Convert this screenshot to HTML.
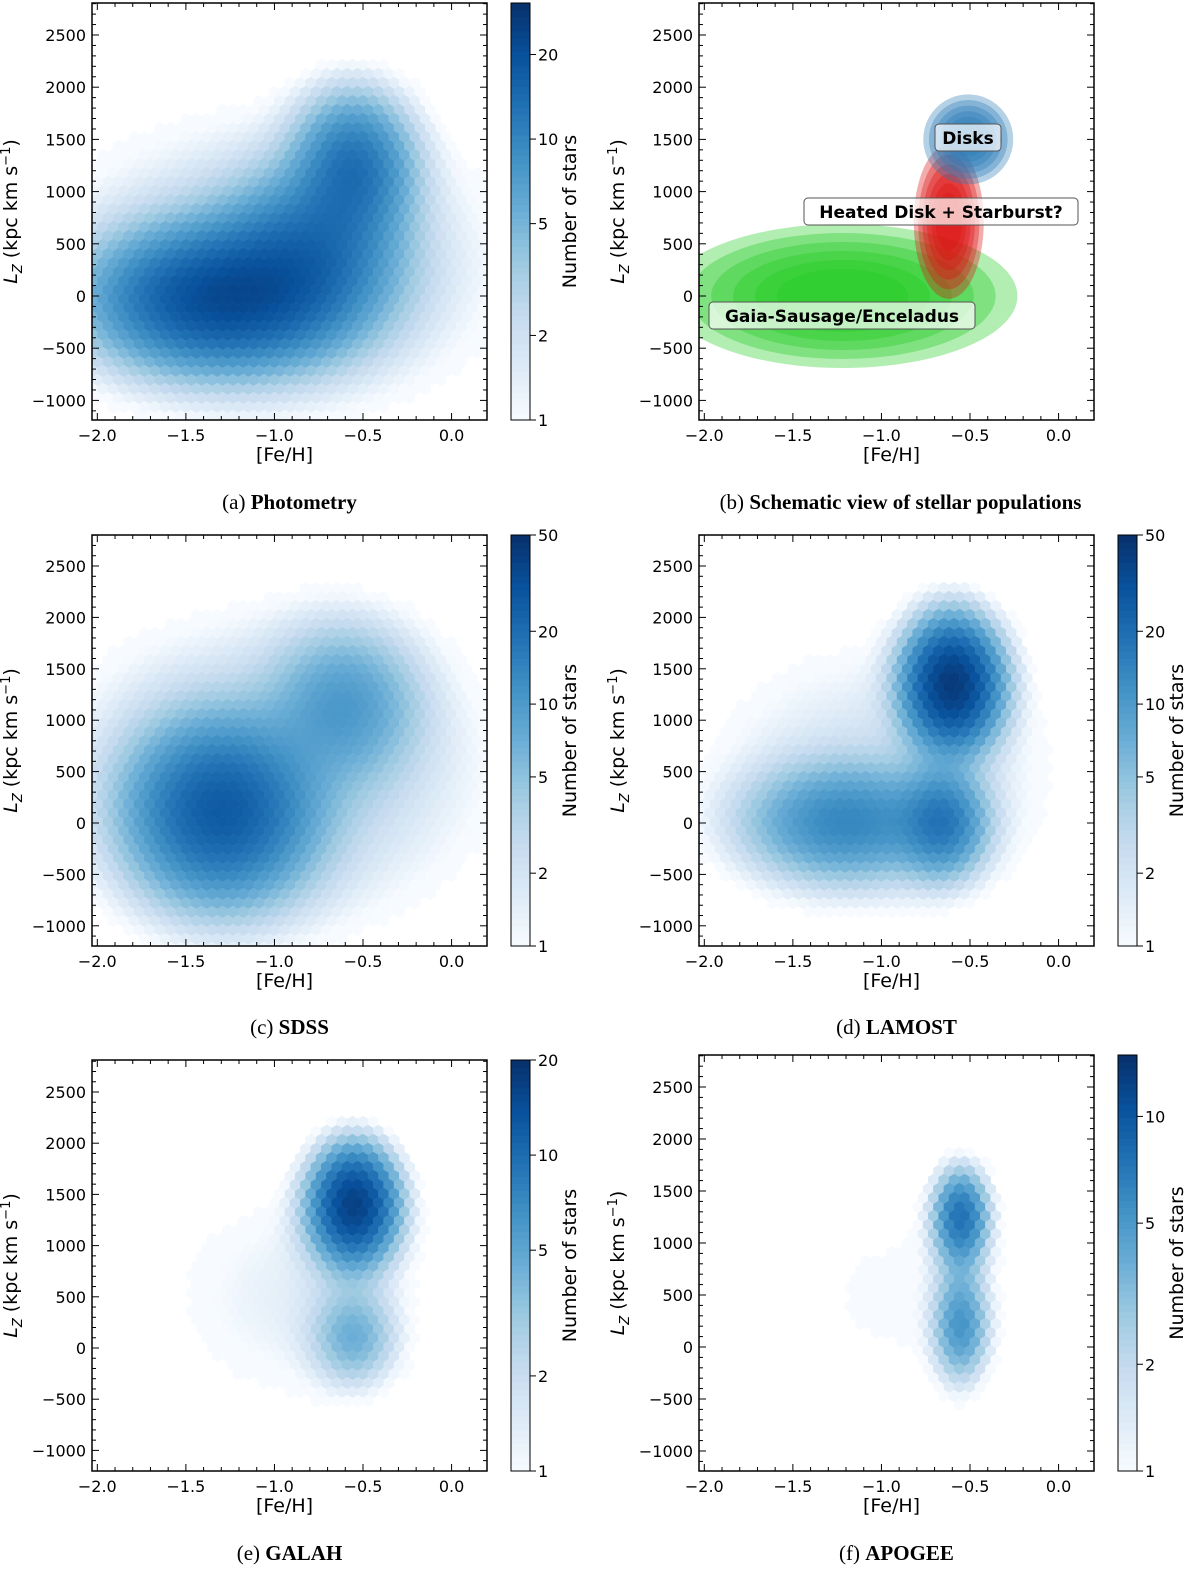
<!DOCTYPE html>
<html><head><meta charset="utf-8"><style>
body{margin:0;background:#fff}
svg{display:block}
text{font-family:"DejaVu Sans","Liberation Sans",sans-serif;fill:#000}
.cap{font-family:"Liberation Serif",serif;font-size:21px}
</style></head><body>
<svg id="fig" width="1200" height="1584" viewBox="0 0 1200 1584" xmlns="http://www.w3.org/2000/svg">
<defs></defs>
</svg>
<script>
// Data: blob components [feh, lz, sigmaFeh, sigmaLz, peakCount] per panel
const blobsA=[[-1.3,-30,0.42,400,19],[-0.55,1250,0.2,420,11],[-0.8,450,0.3,450,9],[-1.0,300,0.9,1000,2.5]];
const blobsC=[[-1.3,100,0.3,500,24],[-0.6,1150,0.25,450,8],[-1.0,500,0.8,1000,3]];
const blobsD=[[-0.6,1350,0.15,350,42],[-1.2,0,0.33,330,12],[-0.65,0,0.14,300,14],[-1.0,500,0.7,900,2]];
const blobsE=[[-0.55,1400,0.15,350,16],[-0.55,100,0.15,300,3.5],[-0.9,500,0.6,900,1.3]];
const blobsF=[[-0.55,1250,0.1,300,7],[-0.55,200,0.1,350,4.5],[-0.9,500,0.6,900,0.9]];
const xTicks=[-2.0,-1.5,-1.0,-0.5,0.0];
const yTicks=[2500,2000,1500,1000,500,0,-500,-1000];
const cbarA=[1,2,5,10,20], cbarC=[1,2,5,10,20,50], cbarE=[1,2,5,10,20], cbarF=[1,2,5,10];

const NS="http://www.w3.org/2000/svg";
const svg=document.getElementById('fig');
function el(tag,attrs,parent){const e=document.createElementNS(NS,tag);for(const k in attrs)e.setAttribute(k,attrs[k]);(parent||svg).appendChild(e);return e;}
const blues=["#f7fbff","#deebf7","#c6dbef","#9ecae1","#6baed6","#4292c6","#2171b5","#08519c","#08306b"];
function hex2rgb(h){return [1,3,5].map(i=>parseInt(h.substr(i,2),16));}
function cmap(t){t=Math.max(0,Math.min(1,t));const p=t*8,i=Math.min(7,Math.floor(p)),f=p-i;const a=hex2rgb(blues[i]),b=hex2rgb(blues[i+1]);return 'rgb('+a.map((v,k)=>Math.round(v+(b[k]-v)*f)).join(',')+')';}

function panel(o){
  const g=el('g',{});
  
  
  const X=v=>o.x0+(v-(-2.03))/(0.2-(-2.03))*(o.x1-o.x0);
  const Y=v=>o.y0v+(o.zeroY-o.y0v)*(2500-v)/2500;
  const clipId='clip'+o.id;
  const cp=el('clipPath',{id:clipId},svg.querySelector('defs'));
  el('rect',{x:o.x0,y:o.y0,width:o.x1-o.x0,height:o.y1-o.y0},cp);
  const hg=el('g',{'clip-path':'url(#'+clipId+')'},g);
  if(o.blobs){
    const dx=10.4,dy=9.0,R=dy/1.5;
    const lmax=Math.log10(o.vmax);
    let row=0;
    for(let py=o.y0-10;py<o.y1+10;py+=dy,row++){
      for(let px=o.x0-10+(row%2?dx/2:0);px<o.x1+10;px+=dx){
        const fe=-2.03+(px-o.x0)/(o.x1-o.x0)*2.23;
        const lz=2500-(py-o.y0v)/(o.zeroY-o.y0v)*2500;
        let c=0;
        for(const b of o.blobs){c+=b[4]*Math.exp(-0.5*((fe-b[0])/b[2])**2-0.5*((lz-b[1])/b[3])**2);}
        if(c<0.8)continue;
        const col=cmap(Math.log10(Math.max(1,c))/lmax);
        const h=el('polygon',{points:[[0,-R],[dx/2,-R/2],[dx/2,R/2],[0,R],[-dx/2,R/2],[-dx/2,-R/2]].map(p=>(px+p[0]).toFixed(1)+','+(py+p[1]).toFixed(1)).join(' '),fill:col,stroke:col,'stroke-width':0.4},hg);
        
        
      }
    }
  }
  if(o.schematic){
    const lay=(x,y,rx,ry,color,n,name)=>{for(let i=0;i<n;i++){const s=1-i/n*0.75;const e=el('ellipse',{cx:X(x),cy:Y(y),rx:rx*s,ry:ry*s,fill:color,'fill-opacity':0.35},hg);}};
    lay(-1.22,0,175,72,'#22cc22',6,'gse-ellipse');
    lay(-0.62,710,35,77,'#dd1111',6,'heated-disk-ellipse');
    lay(-0.51,1500,45,45,'#2a7ab8',6,'disks-ellipse');
  }
  el('rect',{x:o.x0,y:o.y0,width:o.x1-o.x0,height:o.y1-o.y0,fill:'none',stroke:'#000','stroke-width':1.5},g);
  for(let v=-2.0;v<=0.21;v+=0.1){const x=X(v);const major=Math.abs(v*2-Math.round(v*2))<1e-6;const L=major?7:4;
    el('line',{x1:x,y1:o.y1,x2:x,y2:o.y1-L,stroke:'#000'},g);el('line',{x1:x,y1:o.y0,x2:x,y2:o.y0+L,stroke:'#000'},g);}
  for(let v=-1100;v<=2800;v+=100){const y=Y(v);if(y<o.y0||y>o.y1)continue;const L=v%500===0?7:4;
    el('line',{x1:o.x0,y1:y,x2:o.x0+L,y2:y,stroke:'#000'},g);el('line',{x1:o.x1,y1:y,x2:o.x1-L,y2:y,stroke:'#000'},g);}
  xTicks.forEach(v=>{const t=el('text',{x:X(v),y:o.y1+21,'text-anchor':'middle','font-size':16},g);t.textContent=(v<0?'\u2212':'')+Math.abs(v).toFixed(1);});
  yTicks.forEach(v=>{const t=el('text',{x:o.x0-6,y:Y(v)+6,'text-anchor':'end','font-size':16},g);t.textContent=(v<0?'\u2212':'')+Math.abs(v);});
  const xl=el('text',{x:(o.x0+o.x1)/2-5,y:o.y1+41,'text-anchor':'middle','font-size':19},g);xl.textContent='[Fe/H]';
  
  const yc=o.x0-75,ym=(o.y0+o.y1)/2;
  const yl=el('text',{x:yc,y:ym,'text-anchor':'middle','font-size':19,transform:'rotate(-90 '+yc+' '+ym+')'},g);
  yl.innerHTML='<tspan font-style="italic">L</tspan><tspan font-style="italic" font-size="13" dy="5">Z</tspan><tspan dy="-5"> (kpc km s</tspan><tspan font-size="13" dy="-7">\u22121</tspan><tspan dy="7">)</tspan>';
  
  const cap=el('text',{x:(o.x0+o.x1)/2+(o.capShift||0),y:o.capY,'text-anchor':'middle',class:'cap'},g);
  cap.innerHTML='('+o.id+') <tspan font-weight="bold">'+o.cap+'</tspan>';
  
  if(o.cbx){
    const cb=el('g',{},g);
    const h=o.y1-o.y0,n=60;
    for(let i=0;i<n;i++){el('rect',{x:o.cbx,y:o.y1-(i+1)*h/n,width:19,height:h/n+0.6,fill:cmap((i+0.5)/n)},cb);}
    el('rect',{x:o.cbx,y:o.y0,width:19,height:h,fill:'none',stroke:'#000','stroke-width':1},cb);
    const lmax=Math.log10(o.vmax);
    o.cticks.forEach(v=>{const y=o.y1-Math.log10(v)/lmax*h;el('line',{x1:o.cbx+19,y1:y,x2:o.cbx+25,y2:y,stroke:'#000'},cb);
      const t=el('text',{x:o.cbx+27,y:y+6,'font-size':16},cb);t.textContent=v;});
    const lx=o.cbx+65;
    const ct=el('text',{x:lx,y:ym,'text-anchor':'middle','font-size':19,transform:'rotate(-90 '+lx+' '+ym+')'},cb);ct.textContent='Number of stars';
    
  }
  if(o.schematic){
    const lab=(txt,x,y,w,name)=>{const r=el('rect',{x:x-w/2,y:y-14,width:w,height:27,rx:4,fill:'#fff','fill-opacity':0.7,stroke:'#555'},g);
      const t=el('text',{x:x,y:y+6,'text-anchor':'middle','font-size':17,'font-weight':'bold'},g);t.textContent=txt;};
    lab('Disks',968,138,66,'disks-label');
    lab('Heated Disk + Starburst?',941,212,274,'heated-disk-label');
    lab('Gaia-Sausage/Enceladus',842,316,266,'gse-label');
  }
}
panel({id:'a',name:'panel-photometry',x0:92,x1:487,y0:3,y1:420,y0v:35,zeroY:296,blobs:blobsA,vmax:30.5,cbx:511,cticks:cbarA,cap:'Photometry',capY:509});
panel({id:'b',name:'panel-schematic',x0:699,x1:1094,y0:3,y1:420,y0v:35,zeroY:296,schematic:true,cap:'Schematic view of stellar populations',capY:509,capShift:4});
panel({id:'c',name:'panel-sdss',x0:92,x1:487,y0:535,y1:946,y0v:566,zeroY:823,blobs:blobsC,vmax:50,cbx:511,cticks:cbarC,cap:'SDSS',capY:1034});
panel({id:'d',name:'panel-lamost',x0:699,x1:1094,y0:535,y1:946,y0v:566,zeroY:823,blobs:blobsD,vmax:50,cbx:1118,cticks:cbarC,cap:'LAMOST',capY:1034});
panel({id:'e',name:'panel-galah',x0:92,x1:487,y0:1060,y1:1471,y0v:1092,zeroY:1348,blobs:blobsE,vmax:20,cbx:511,cticks:cbarE,cap:'GALAH',capY:1560});
panel({id:'f',name:'panel-apogee',x0:699,x1:1094,y0:1055,y1:1471,y0v:1087,zeroY:1347,blobs:blobsF,vmax:14.9,cbx:1118,cticks:cbarF,cap:'APOGEE',capY:1560});
</script>
</body></html>
